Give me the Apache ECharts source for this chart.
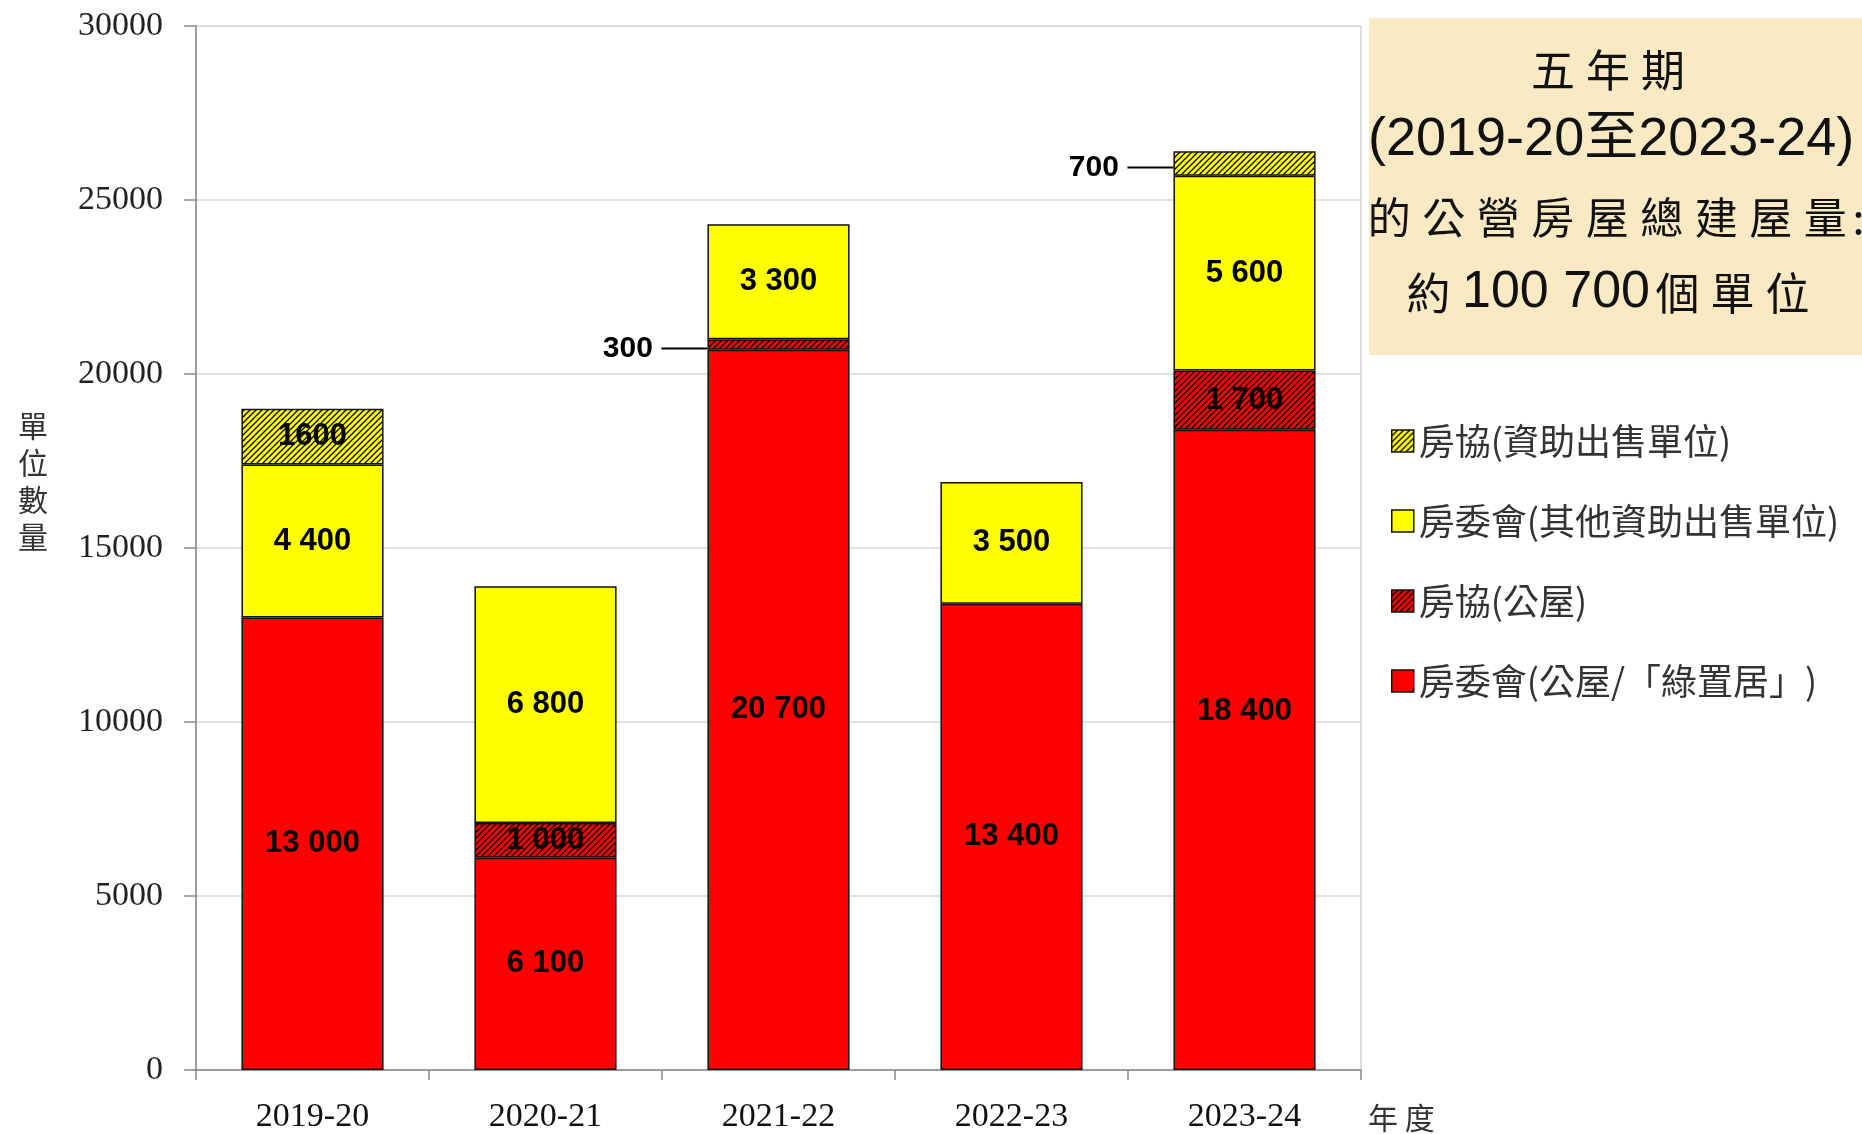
<!DOCTYPE html>
<html>
<head>
<meta charset="utf-8">
<script src="https://cdn.jsdelivr.net/npm/echarts@6/dist/echarts.min.js"></script>
<style>
  html, body { margin: 0; padding: 0; background: #fff; }
  #chart { width: 1862px; height: 1134px; }
</style>
</head>
<body>
<div id="chart"></div>
<script>
  // 年度
  const years = ['2019-20', '2020-21', '2021-22', '2022-23', '2023-24'];
  // 房委會(公屋/「綠置居」)
  const hkhaPublic = [13000, 6100, 20700, 13400, 18400];
  // 房協(公屋)
  const hsPublic = [0, 1000, 300, 0, 1700];
  // 房委會(其他資助出售單位)
  const hkhaSale = [4400, 6800, 3300, 3500, 5600];
  // 房協(資助出售單位)
  const hsSale = [1600, 0, 0, 0, 700];
  const yMax = 30000;
  const yStep = 5000;

  const LABEL_FONT = '"Liberation Sans", Arial, sans-serif';
  const CJK = '"Noto Sans CJK TC", "Noto Sans CJK SC", sans-serif';
  const SERIF = '"Liberation Serif", "Times New Roman", serif';

  // diagonal hatch fill
  function hatch(bg) {
    const c = document.createElement('canvas');
    c.width = c.height = 6;
    const g = c.getContext('2d');
    g.fillStyle = bg;
    g.fillRect(0, 0, 6, 6);
    g.strokeStyle = '#000';
    g.lineWidth = 1.3;
    g.beginPath();
    g.moveTo(-1, 7); g.lineTo(7, -1);
    g.moveTo(-1, 1); g.lineTo(1, -1);
    g.moveTo(5, 7); g.lineTo(7, 5);
    g.stroke();
    return c;
  }

  function spaced(v) {
    return String(v).replace(/\B(?=(\d{3})+(?!\d))/g, ' ');
  }
  function plain(v) { return String(v); }

  function items(vals, fmt) {
    return vals.map(v => {
      if (v === 0) return '-';
      if (v < 1000) {
        return {
          value: v,
          label: { position: 'left', distance: 0, offset: [0, 4], formatter: '{v|' + fmt(v) + '} {l|}' }
        };
      }
      return v;
    });
  }

  function makeSeries(name, vals, color, fmt) {
    return {
      name: name,
      type: 'bar',
      stack: 'total',
      barWidth: '61%',
      data: items(vals, fmt),
      itemStyle: { color: color, borderColor: '#111', borderWidth: 1.5 },
      label: {
        show: true,
        position: 'inside',
        color: '#000',
        fontFamily: LABEL_FONT,
        fontWeight: 'bold',
        fontSize: 31,
        formatter: p => fmt(p.value),
        rich: {
          v: { fontFamily: LABEL_FONT, fontWeight: 'bold', fontSize: 30, color: '#000' },
          l: { width: 46, height: 2, backgroundColor: '#000' }
        }
      },
      emphasis: { disabled: true }
    };
  }

  // CJK line with fixed character pitch
  function pitched(str, style) {
    return str.split('').map(ch => '{' + style + '|' + ch + '}').join('');
  }

  const series = [
    makeSeries('房委會(公屋/「綠置居」)', hkhaPublic, '#ff0000', spaced),
    makeSeries('房協(公屋)', hsPublic, { image: hatch('#ff0000'), repeat: 'repeat' }, spaced),
    makeSeries('房委會(其他資助出售單位)', hkhaSale, '#ffff00', spaced),
    makeSeries('房協(資助出售單位)', hsSale, { image: hatch('#ffff00'), repeat: 'repeat' }, plain)
  ];
  // the last red label sits higher in its bar
  series[0].data[4] = { value: hkhaPublic[4], label: { offset: [0, -38] } };

  const chart = echarts.init(document.getElementById('chart'), null, { renderer: 'canvas' });

  const option = {
    animation: false,
    backgroundColor: '#fff',
    grid: {
      left: 196, right: 501, top: 26, bottom: 63,
      show: true, borderColor: '#bdbdbd', borderWidth: 1
    },
    legend: {
      orient: 'vertical',
      left: 1386,
      top: 416,
      icon: 'rect',
      itemWidth: 22,
      itemHeight: 22,
      itemGap: 40,
      data: ['房協(資助出售單位)', '房委會(其他資助出售單位)', '房協(公屋)', '房委會(公屋/「綠置居」)'],
      itemStyle: { borderColor: '#111', borderWidth: 1.5 },
      textStyle: { fontFamily: CJK, fontSize: 36, lineHeight: 40, color: '#333' },
      selectedMode: false
    },
    xAxis: {
      type: 'category',
      data: years,
      axisLine: { lineStyle: { color: '#888', width: 1.5 } },
      axisTick: { show: true, length: 10, lineStyle: { color: '#888', width: 1.5 } },
      axisLabel: { margin: 30, fontFamily: SERIF, fontSize: 34, color: '#111' }
    },
    yAxis: {
      type: 'value',
      min: 0,
      max: yMax,
      interval: yStep,
      axisLine: { show: true, lineStyle: { color: '#888', width: 1.5 } },
      axisTick: { show: true, length: 12, lineStyle: { color: '#888', width: 1.5 } },
      axisLabel: { margin: 33, fontFamily: SERIF, fontSize: 34, color: '#222', formatter: v => String(v) },
      splitLine: { lineStyle: { color: '#d9d9d9', width: 1.5 } }
    },
    series: series,
    graphic: [
      {
        type: 'text', x: 33, y: 481,
        style: {
          text: '單\n位\n數\n量', font: '30px ' + CJK, lineHeight: 37,
          fill: '#333', align: 'center', verticalAlign: 'middle'
        }
      },
      {
        type: 'text', x: 1368, y: 1118,
        style: {
          text: '年 度', font: '30px ' + CJK,
          fill: '#333', align: 'left', verticalAlign: 'middle'
        }
      },
      {
        type: 'rect', z: -1,
        shape: { x: 1369, y: 18, width: 520, height: 337 },
        style: { fill: '#f9eac3' }
      },
      {
        type: 'text', x: 1608, y: 70,
        style: {
          text: pitched('五年期', 'c'), fill: '#111', align: 'center', verticalAlign: 'middle',
          rich: { c: { fontFamily: CJK, fontSize: 44, width: 55, align: 'center', fill: '#111' } }
        }
      },
      {
        type: 'text', x: 1368, y: 140,
        style: {
          text: '(2019-20至2023-24)', font: '54px "Liberation Sans", ' + CJK,
          fill: '#111', align: 'left', verticalAlign: 'middle'
        }
      },
      {
        type: 'text', x: 1362, y: 218,
        style: {
          text: pitched('的公營房屋總建屋量', 'c') + '{k|:}', fill: '#111', align: 'left', verticalAlign: 'middle',
          rich: {
            c: { fontFamily: CJK, fontSize: 43, width: 54.5, align: 'center', fill: '#111' },
            k: { fontFamily: CJK, fontSize: 43, fill: '#111' }
          }
        }
      },
      {
        type: 'text', x: 1401, y: 293,
        style: {
          text: '{c|約}{s|}{n|100 700}' + pitched('個單位', 'c'),
          fill: '#111', align: 'left', verticalAlign: 'middle',
          rich: {
            c: { fontFamily: CJK, fontSize: 44, width: 55, align: 'center', fill: '#111' },
            s: { width: 6 },
            n: { fontFamily: LABEL_FONT, fontSize: 52, fill: '#111' }
          }
        }
      }
    ]
  };

  chart.setOption(option);
</script>
</body>
</html>
